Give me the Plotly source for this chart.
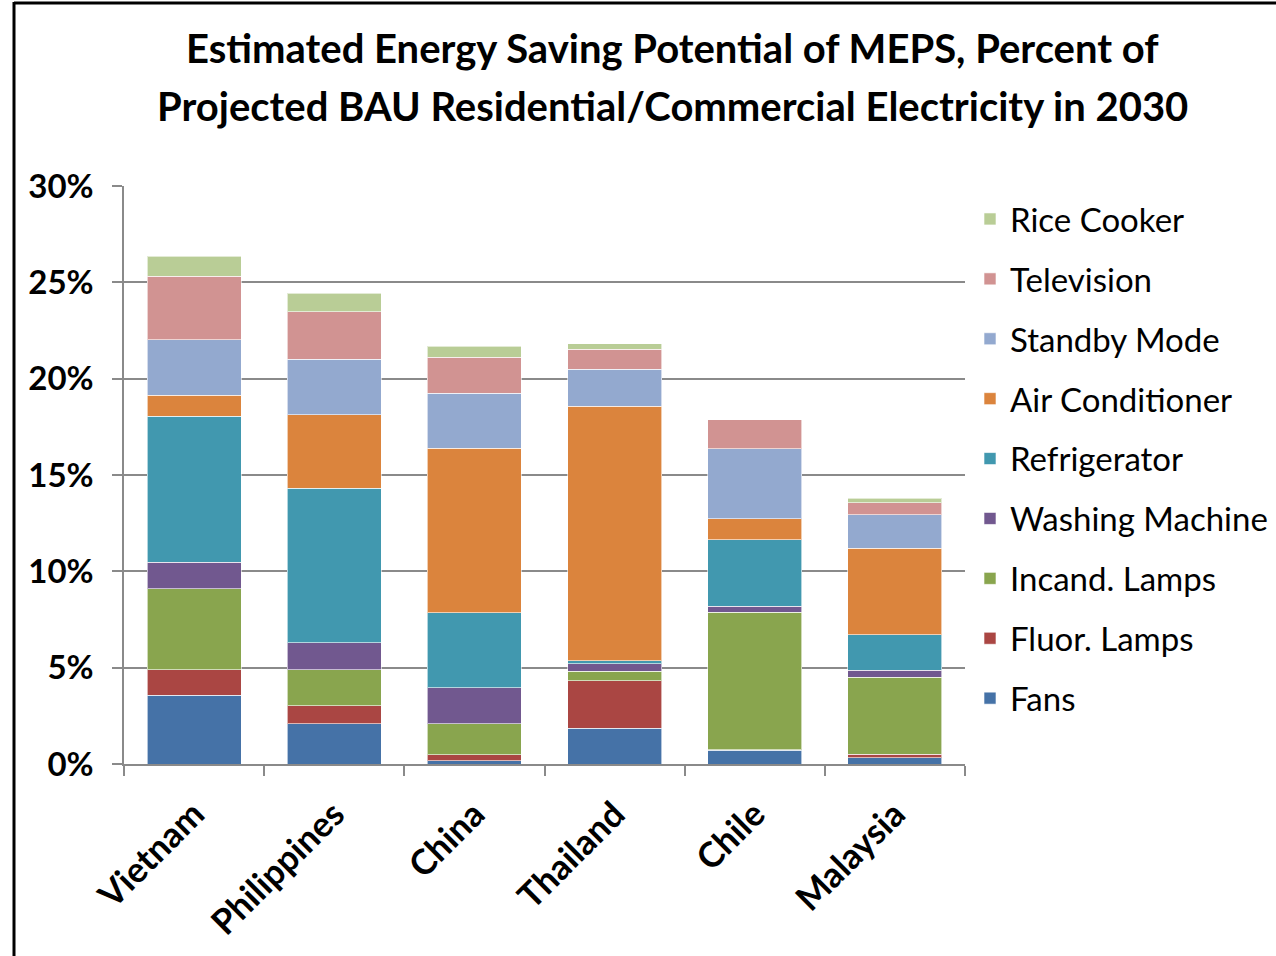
import plotly.graph_objects as go

countries = ["Vietnam", "Philippines", "China", "Thailand", "Chile", "Malaysia"]

fans = [3.57, 2.09, 0.17, 1.86, 0.72, 0.33]
fluor_lamps = [1.33, 0.93, 0.30, 2.47, 0.03, 0.17]
incand_lamps = [4.19, 1.88, 1.63, 0.48, 7.13, 3.99]
washing_machine = [1.38, 1.39, 1.86, 0.40, 0.31, 0.38]
refrigerator = [7.58, 8.03, 3.88, 0.14, 3.46, 1.84]
air_conditioner = [1.09, 3.82, 8.55, 13.21, 1.07, 4.48]
standby_mode = [2.88, 2.88, 2.86, 1.94, 3.63, 1.75]
television = [3.30, 2.46, 1.86, 1.03, 1.53, 0.62]
rice_cooker = [1.04, 0.95, 0.56, 0.29, 0.00, 0.24]

series = [
    ("Fans", fans, "#4572A7"),
    ("Fluor. Lamps", fluor_lamps, "#AA4643"),
    ("Incand. Lamps", incand_lamps, "#89A54E"),
    ("Washing Machine", washing_machine, "#71588F"),
    ("Refrigerator", refrigerator, "#4198AF"),
    ("Air Conditioner", air_conditioner, "#DB843D"),
    ("Standby Mode", standby_mode, "#93A9CF"),
    ("Television", television, "#D19392"),
    ("Rice Cooker", rice_cooker, "#B9CD96"),
]

FONT = "Lato, Open Sans, sans-serif"

fig = go.Figure()
n = len(series)
for i, (name, vals, col) in enumerate(series):
    fig.add_trace(go.Bar(
        name=name, x=countries, y=[v / 100 for v in vals],
        marker=dict(color=col, line=dict(color="rgba(255,255,255,0.6)", width=1)),
        legendgroup=f"g{i}", legendrank=n - i,
    ))

# plot area in page pixels: x 124..965, y 186..764
W, H = 1276, 956
L, R, T, B = 124, W - 965, 186, H - 764
PW, PH = 965 - 124, 764 - 186

def px_x(px):
    return (px - L) / PW

def px_y(py):
    return (764 - py) / PH

fig.update_layout(
    width=W, height=H,
    margin=dict(l=L, r=R, t=T, b=B, autoexpand=False),
    barmode="stack", bargap=0.33,
    paper_bgcolor="white", plot_bgcolor="white",
    font=dict(family=FONT, color="black"),
    showlegend=True,
    legend=dict(
        xref="container", yref="container",
        x=970 / W, y=1 - 191 / H, xanchor="left", yanchor="top",
        traceorder="grouped", tracegroupgap=14, maxheight=720,
        font=dict(size=33, family=FONT, color="black"),
        itemwidth=30, bgcolor="rgba(0,0,0,0)",
    ),
    xaxis=dict(
        showline=True, linecolor="#8a8a8a", linewidth=1.5,
        ticks="outside", ticklen=10, tickcolor="#8a8a8a", tickwidth=1.5,
        tickson="boundaries", tickangle=-45, ticklabelstandoff=14,
        tickfont=dict(size=35, family=FONT, color="black", weight="bold"),
        showgrid=False,
    ),
    yaxis=dict(
        range=[0, 0.30], tickvals=[0, 0.05, 0.10, 0.15, 0.20, 0.25, 0.30],
        ticktext=["0%", "5%", "10%", "15%", "20%", "25%", "30%"],
        showline=True, linecolor="#8a8a8a", linewidth=1.5,
        ticks="outside", ticklen=10, tickcolor="#8a8a8a", tickwidth=1.5,
        ticklabelstandoff=12,
        showgrid=True, gridcolor="#8a8a8a", gridwidth=1.5,
        tickfont=dict(size=33, family=FONT, color="black", weight="bold"),
        zeroline=False,
    ),
    annotations=[
        dict(text="Estimated Energy Saving Potential of MEPS, Percent of",
             xref="paper", yref="paper", x=px_x(672), y=px_y(48),
             xanchor="center", yanchor="middle", showarrow=False,
             font=dict(size=40, family=FONT, color="black", weight="bold")),
        dict(text="Projected BAU Residential/Commercial Electricity in 2030",
             xref="paper", yref="paper", x=px_x(672), y=px_y(106),
             xanchor="center", yanchor="middle", showarrow=False,
             font=dict(size=40, family=FONT, color="black", weight="bold")),
    ],
    shapes=[
        dict(type="line", xref="paper", yref="paper",
             x0=px_x(14), x1=px_x(14), y0=px_y(2), y1=px_y(1000),
             line=dict(color="black", width=3)),
        dict(type="line", xref="paper", yref="paper",
             x0=px_x(14), x1=px_x(1300), y0=px_y(3), y1=px_y(3),
             line=dict(color="black", width=3)),
    ],
)

fig.write_html("out.html", config={"displayModeBar": False},
               post_script="document.body.style.margin='0';")
